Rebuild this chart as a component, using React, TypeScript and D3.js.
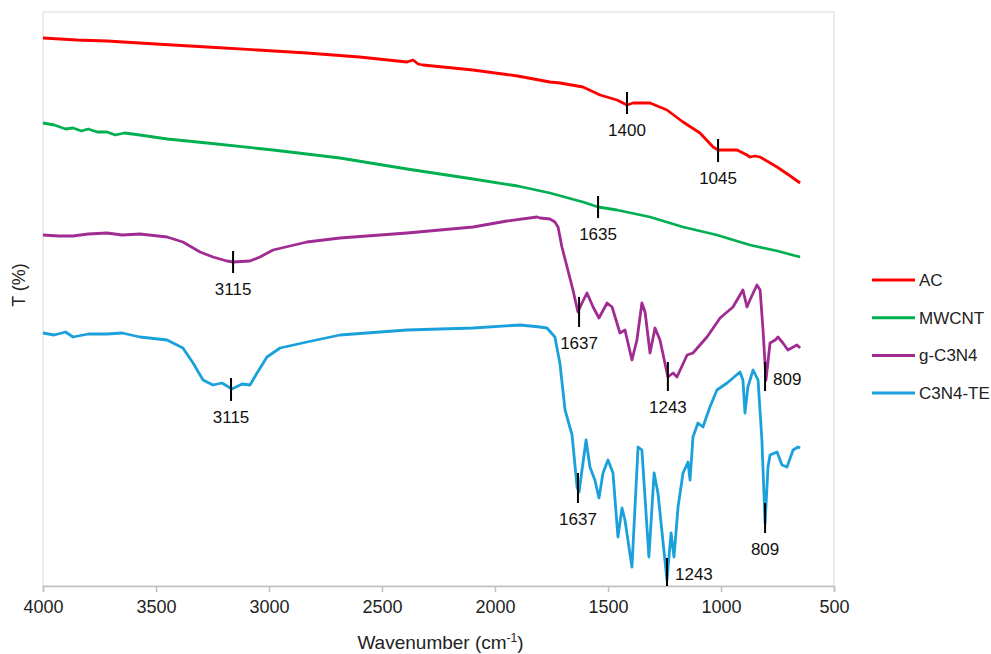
import React, { useEffect, useRef } from 'react';
import * as d3 from 'd3';

// wavenumber (cm-1), transmittance (arb. %)
const acData: [number, number][] = [
  [4000, 54.8], [3850, 54.6], [3717, 54.5], [3500, 54.2], [3274, 53.9], [3050, 53.6],
  [2832, 53.3], [2600, 52.9], [2389, 52.4], [2363, 52.6], [2340, 52.2], [2319, 52.1],
  [2097, 51.6], [1900, 51.0], [1757, 50.4], [1712, 50.3], [1611, 49.9], [1535, 49.1],
  [1460, 48.6], [1416, 48.1], [1389, 48.3], [1314, 48.3], [1239, 47.6], [1168, 46.4],
  [1093, 45.3], [1035, 43.9], [1013, 43.6], [929, 43.6], [885, 43.1], [872, 42.9],
  [850, 43.0], [827, 42.9], [752, 41.9], [700, 41.1], [650, 40.3],
];

const mwcntData: [number, number][] = [
  [4000, 46.3], [3950, 46.1], [3900, 45.7], [3867, 45.8], [3830, 45.5], [3800, 45.7],
  [3760, 45.4], [3717, 45.4], [3680, 45.1], [3640, 45.3], [3571, 45.1], [3450, 44.7],
  [3274, 44.3], [2982, 43.6], [2686, 42.8], [2389, 41.7], [2097, 40.7], [1900, 40.0],
  [1757, 39.3], [1611, 38.4], [1544, 37.9], [1460, 37.6], [1314, 36.9], [1168, 35.9],
  [1018, 35.1], [872, 34.1], [750, 33.5], [650, 32.9],
];

const gc3n4Data: [number, number][] = [
  [4000, 35.1], [3930, 35.0], [3867, 35.0], [3800, 35.2], [3717, 35.3], [3650, 35.1],
  [3571, 35.2], [3451, 34.9], [3381, 34.4], [3305, 33.4], [3248, 32.9], [3186, 32.5],
  [3159, 32.4], [3084, 32.5], [3040, 32.9], [2982, 33.6], [2832, 34.4], [2686, 34.8],
  [2389, 35.3], [2097, 35.9], [1947, 36.5], [1814, 36.9], [1801, 36.8], [1757, 36.7],
  [1735, 36.4], [1721, 35.9], [1704, 33.9], [1681, 31.9], [1655, 29.6], [1633, 27.4],
  [1615, 28.3], [1593, 29.3], [1566, 27.9], [1540, 26.8], [1504, 28.3], [1482, 27.9],
  [1447, 25.3], [1425, 25.6], [1394, 22.6], [1372, 24.6], [1350, 28.3], [1336, 27.4],
  [1314, 23.3], [1292, 25.8], [1270, 24.6], [1235, 20.9], [1212, 21.3], [1195, 20.9],
  [1150, 23.1], [1124, 23.3], [1062, 24.9], [1004, 26.8], [947, 27.9], [903, 29.6],
  [885, 27.9], [872, 28.6], [841, 30.1], [827, 29.6], [814, 25.6], [801, 20.6],
  [783, 24.3], [760, 24.6], [748, 24.9], [726, 24.3], [704, 23.6], [664, 24.1], [650, 23.8],
];

const c3n4teData: [number, number][] = [
  [4000, 25.3], [3950, 25.1], [3900, 25.4], [3867, 24.9], [3800, 25.2], [3717, 25.2],
  [3650, 25.3], [3571, 24.9], [3451, 24.6], [3381, 23.8], [3336, 22.3], [3292, 20.6],
  [3248, 20.1], [3208, 20.3], [3164, 19.7], [3119, 20.2], [3084, 20.1], [3053, 21.3],
  [3009, 22.9], [2951, 23.8], [2832, 24.4], [2686, 25.1], [2389, 25.6], [2097, 25.8],
  [1889, 26.1], [1801, 25.9], [1770, 25.8], [1735, 24.9], [1713, 22.3], [1690, 17.6],
  [1659, 15.1], [1637, 9.9], [1628, 9.4], [1615, 11.6], [1597, 14.6], [1580, 11.9],
  [1558, 10.6], [1540, 8.8], [1522, 11.3], [1500, 12.6], [1478, 11.3], [1456, 4.9],
  [1438, 7.8], [1425, 6.6], [1394, 1.9], [1367, 13.9], [1350, 13.6], [1319, 2.9],
  [1296, 11.3], [1279, 9.3], [1239, 0.6], [1221, 5.3], [1208, 2.9], [1190, 7.9],
  [1168, 11.3], [1146, 12.4], [1137, 10.6], [1124, 14.9], [1102, 16.3], [1080, 15.9],
  [1049, 17.9], [1018, 19.6], [973, 20.3], [916, 21.4], [903, 20.6], [894, 17.3],
  [881, 19.9], [858, 21.6], [836, 20.6], [819, 14.6], [805, 6.3], [792, 11.9],
  [783, 13.1], [752, 13.4], [730, 12.1], [708, 11.9], [681, 13.6], [659, 13.9], [650, 13.8],
];

const seriesNames = ['AC', 'MWCNT', 'g-C3N4', 'C3N4-TE'];
const seriesColors = ['#ff0000', '#00b050', '#a02b93', '#1aa0da'];
const seriesData = [acData, mwcntData, gc3n4Data, c3n4teData];

const xTicks = [4000, 3500, 3000, 2500, 2000, 1500, 1000, 500];

// peak marks: label, wavenumber where drawn, top / bottom of the marker (T), label side
const peakLabels = ['1400', '1045', '1635', '3115', '1637', '1243', '809', '3115', '1637', '1243', '809'];
const peakWn = [1416, 1013, 1544, 3159, 1628, 1235, 805, 3168, 1633, 1239, 805];
const peakTop = [49.4, 44.7, 39.0, 33.5, 28.9, 22.4, 22.4, 20.8, 11.3, 2.8, 8.3];
const peakBottom = [47.2, 42.4, 36.8, 31.3, 25.9, 19.5, 19.5, 18.5, 8.3, 0, 5.3];
const peakSide = ['below', 'below', 'below', 'below', 'below', 'below', 'right', 'below', 'below', 'right', 'below'];

const W = 991;
const H = 654;
const margin = { top: 12, right: 157, bottom: 68, left: 43 };
const font = '"Liberation Sans", Arial, sans-serif';

const App = () => {
  const ref = useRef<SVGSVGElement>(null);

  useEffect(() => {
    const svg = d3.select(ref.current);
    svg.selectAll('*').remove();

    const iw = W - margin.left - margin.right;
    const ih = H - margin.top - margin.bottom;

    const x = d3.scaleLinear().domain([4000, 500]).range([0, iw]);
    const y = d3.scaleLinear().domain([0, 57.4]).range([ih, 0]);

    const g = svg.append('g').attr('transform', `translate(${margin.left},${margin.top})`);

    // plot frame
    g.append('rect')
      .attr('width', iw)
      .attr('height', ih)
      .attr('fill', 'none')
      .attr('stroke', '#d9d9d9')
      .attr('stroke-width', 1);

    // x axis
    const xAxis = g
      .append('g')
      .attr('transform', `translate(0,${ih})`)
      .call(d3.axisBottom(x).tickValues(xTicks).tickSize(6).tickPadding(8).tickFormat(d3.format('d')));
    xAxis.select('.domain').attr('stroke', '#bfbfbf').attr('stroke-width', 1.5);
    xAxis.selectAll('.tick line').attr('stroke', '#bfbfbf').attr('stroke-width', 1.5);
    xAxis.selectAll('.tick text')
      .attr('fill', '#222')
      .style('font-family', font)
      .style('font-size', '18px');

    // series
    const line = d3
      .line<[number, number]>()
      .x((d) => x(d[0]))
      .y((d) => y(d[1]));

    seriesData.forEach((data, i) => {
      g.append('path')
        .datum(data)
        .attr('d', line)
        .attr('fill', 'none')
        .attr('stroke', seriesColors[i])
        .attr('stroke-width', 2.8)
        .attr('stroke-linejoin', 'round');
    });

    // peak markers
    peakLabels.forEach((lab, i) => {
      const px = x(peakWn[i]);
      const y1 = y(peakTop[i]);
      const y2 = y(peakBottom[i]);
      g.append('line')
        .attr('x1', px)
        .attr('x2', px)
        .attr('y1', y1)
        .attr('y2', y2)
        .attr('stroke', '#000')
        .attr('stroke-width', 2);
      const t = g.append('text')
        .attr('fill', '#111')
        .style('font-family', font)
        .style('font-size', '17px')
        .text(lab);
      if (peakSide[i] === 'right') {
        t.attr('x', px + 8).attr('y', y2 - 6);
      } else {
        t.attr('x', px).attr('y', y2 + 22).attr('text-anchor', 'middle');
      }
    });

    // axis titles
    const xt = svg.append('text')
      .attr('x', margin.left + iw / 2 + 2)
      .attr('y', 649)
      .attr('text-anchor', 'middle')
      .attr('fill', '#222')
      .style('font-family', font)
      .style('font-size', '19px');
    xt.append('tspan').text('Wavenumber (cm');
    xt.append('tspan').attr('dy', -7).style('font-size', '12px').text('-1');
    xt.append('tspan').attr('dy', 7).text(')');

    svg.append('text')
      .attr('transform', `translate(25,${margin.top + ih / 2 - 14}) rotate(-90)`)
      .attr('text-anchor', 'middle')
      .attr('fill', '#222')
      .style('font-family', font)
      .style('font-size', '18px')
      .text('T (%)');

    // legend
    const lg = svg.append('g').attr('transform', 'translate(872,280)');
    seriesNames.forEach((name, i) => {
      const row = lg.append('g').attr('transform', `translate(0,${i * 37.7})`);
      row.append('line')
        .attr('x1', 0)
        .attr('x2', 43)
        .attr('stroke', seriesColors[i])
        .attr('stroke-width', 3);
      row.append('text')
        .attr('x', 47)
        .attr('y', 6)
        .attr('fill', '#222')
        .style('font-family', font)
        .style('font-size', '17px')
        .text(name);
    });
  }, []);

  return (
    <div style={{ position: 'absolute', left: 0, top: 0 }}>
      <svg ref={ref} width={W} height={H} style={{ display: 'block', background: '#fff' }}></svg>
    </div>
  );
};

export default App;
